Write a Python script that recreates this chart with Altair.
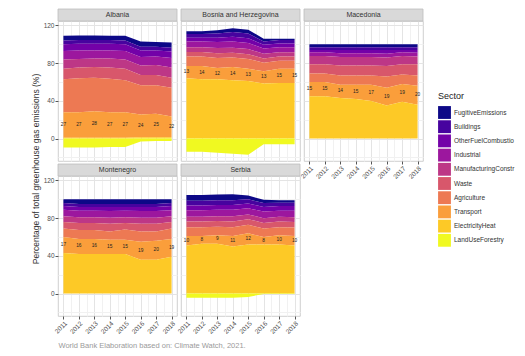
import altair as alt
import pandas as pd

years = [2011, 2012, 2013, 2014, 2015, 2016, 2017, 2018]
countries = ["Albania", "Bosnia and Herzegovina", "Macedonia", "Montenegro", "Serbia"]
sectors = ["FugitiveEmissions", "Buildings", "OtherFuelCombustion", "Industrial",
           "ManufacturingConstruction", "Waste", "Agriculture", "Transport",
           "ElectricityHeat", "LandUseForestry"]
sector_colors = ["#0D0887", "#47039F", "#7301A8", "#9C179E", "#BD3786",
                 "#D8576B", "#ED7953", "#FA9E3B", "#FDC926", "#F0F921"]
stack_rank = [9, 8, 7, 6, 5, 4, 3, 2, 1, 0]

# Albania
alb_fugitive = [5, 5, 5, 4.5, 5, 5.5, 5, 5.5]
alb_buildings = [4, 4, 4, 4, 4, 4, 4, 4]
alb_other = [7, 7, 7, 7, 7, 7, 6.5, 7]
alb_industrial = [9, 9, 8.5, 8.5, 9, 9, 9, 10]
alb_manufacturing = [10, 9, 9, 9.5, 10, 10, 10.5, 11]
alb_waste = [11, 11.5, 11.5, 12, 12, 11, 11, 10.5]
alb_agriculture = [35, 36, 35.5, 35.5, 34, 31, 30, 30.5]
alb_transport = [27, 27, 28, 27, 27, 24, 25, 22]
alb_electricity = [1, 1, 1, 1, 1, 1.5, 1.5, 1.5]
alb_landuse = [-9.5, -9.5, -9.5, -9, -9, -3, -2.5, -2.5]

# Bosnia and Herzegovina
bih_fugitive = [3, 3, 3.5, 4, 4, 3, 1.5, 1.5]
bih_buildings = [4, 4, 4.5, 5, 5, 3.5, 3.5, 3.5]
bih_other = [4, 4, 4.5, 5, 5, 4, 4, 4]
bih_industrial = [6, 6, 6.5, 6.5, 6.5, 5.5, 5.5, 5.5]
bih_manufacturing = [5, 5, 5.5, 5.5, 5.5, 5, 4.5, 4.5]
bih_waste = [5, 5, 5, 5, 5, 4.5, 4.5, 4.5]
bih_agriculture = [10, 10, 10.5, 10, 10.5, 9, 8.5, 8.5]
bih_transport = [13, 14, 12, 14, 13, 13, 15, 15]
bih_electricity = [64, 63, 63, 62, 61, 58.5, 59, 59]
bih_landuse = [-14, -14, -15, -16, -17, -6, -6, -6]

# Macedonia
mkd_fugitive = [3, 3, 3, 3, 3, 3, 3, 3]
mkd_buildings = [3, 3, 3, 3, 3, 3, 3, 3]
mkd_other = [2.5, 2.5, 3.5, 3.5, 3.5, 4, 2.5, 3]
mkd_industrial = [4, 4, 4, 4, 4, 4, 4, 4]
mkd_manufacturing = [8.5, 8.5, 9, 9, 9, 9, 8.5, 8]
mkd_waste = [10, 10, 10.5, 10.5, 10.5, 11, 11, 12]
mkd_agriculture = [9, 9, 10, 10, 10, 12, 10, 11]
mkd_transport = [15, 15, 14, 15, 17, 19, 19, 20]
mkd_electricity = [45, 45, 43, 42, 40, 35, 39, 36]
mkd_landuse = [0, 0, 0, 0, 0, 0, 0, 0]

# Montenegro
mne_fugitive = [4, 5, 5, 5, 5, 5, 5, 4]
mne_buildings = [3, 3, 3, 3, 3, 3, 3, 3]
mne_other = [4, 4, 4, 4.5, 4, 4.5, 4.5, 4.5]
mne_industrial = [7, 7, 7, 7, 7, 7, 7, 6.5]
mne_manufacturing = [6, 6, 6, 6.5, 6, 6.5, 6.5, 6]
mne_waste = [7, 7.5, 7.5, 8, 7, 8, 8, 7]
mne_agriculture = [9, 9.5, 9.5, 9, 11, 11, 10, 11]
mne_transport = [17, 16, 16, 15, 15, 19, 20, 19]
mne_electricity = [43, 42, 42, 42, 42, 36, 36, 39]
mne_landuse = [0, 0, 0, 0, 0, 0, 0, 0]

# Serbia
srb_fugitive = [6, 6, 6, 6.5, 4, 3.5, 2.5, 2.5]
srb_buildings = [5, 5, 5, 5, 4.5, 4, 3.5, 3.5]
srb_other = [5, 5, 5, 5, 5, 5, 5, 5]
srb_industrial = [7, 7, 7, 7, 6.5, 7, 6.5, 7]
srb_manufacturing = [5, 5, 5, 5.5, 5, 5, 5, 5]
srb_waste = [6, 6, 6, 6, 6, 6, 6, 6]
srb_agriculture = [9.5, 9.5, 9, 9.5, 9, 9, 8.5, 9]
srb_transport = [10, 8, 9, 11, 12, 8, 10, 10]
srb_electricity = [51, 53, 53, 50, 52, 52, 52, 51]
srb_landuse = [-4.5, -4.5, -4.5, -4.5, -3.5, -0.3, -0.3, -0.3]

country_series = {
    "Albania": [alb_fugitive, alb_buildings, alb_other, alb_industrial, alb_manufacturing,
                alb_waste, alb_agriculture, alb_transport, alb_electricity, alb_landuse],
    "Bosnia and Herzegovina": [bih_fugitive, bih_buildings, bih_other, bih_industrial, bih_manufacturing,
                               bih_waste, bih_agriculture, bih_transport, bih_electricity, bih_landuse],
    "Macedonia": [mkd_fugitive, mkd_buildings, mkd_other, mkd_industrial, mkd_manufacturing,
                  mkd_waste, mkd_agriculture, mkd_transport, mkd_electricity, mkd_landuse],
    "Montenegro": [mne_fugitive, mne_buildings, mne_other, mne_industrial, mne_manufacturing,
                   mne_waste, mne_agriculture, mne_transport, mne_electricity, mne_landuse],
    "Serbia": [srb_fugitive, srb_buildings, srb_other, srb_industrial, srb_manufacturing,
               srb_waste, srb_agriculture, srb_transport, srb_electricity, srb_landuse],
}

rows = []
label_rows = []
for c in countries:
    series = country_series[c]
    for s, vals, rank in zip(sectors, series, stack_rank):
        for yr, v in zip(years, vals):
            rows.append({"country": c, "sector": s, "rank": rank, "year": yr, "value": v})
    transport = series[7]
    elec = series[8]
    for yr, t, e in zip(years, transport, elec):
        label_rows.append({"country": c, "year": yr, "label_y": e + t / 2, "label": str(int(round(t)))})

df = pd.DataFrame(rows)
labels_df = pd.DataFrame(label_rows)

W, H = 119, 140
x_vals = [2011 + 0.5 * i for i in range(15)]
y_vals = [-20, 0, 20, 40, 60, 80, 100, 120]

minor_x = "datum.value % 1 != 0"
minor_y = "datum.value % 40 != 0"

legend = alt.Legend(
    title="Sector", orient="none", legendX=380, legendY=71,
    symbolType="square", symbolSize=165, symbolStrokeWidth=0, symbolOpacity=1,
    labelFontSize=6.5, titleFontSize=9, titleFontWeight="normal",
    rowPadding=1.2, labelOffset=3, labelColor="#333333", titleColor="#222222",
    titlePadding=5,
    labelExpr="datum.label == 'OtherFuelCombustion' ? 'OtherFuelCombustio' : "
              "(datum.label == 'ManufacturingConstruction' ? 'ManufacturingConstr' : datum.label)",
)


def make_x_axis(show, title=None):
    kw = dict(
        values=x_vals, labels=show, ticks=show, grid=True,
        labelExpr="datum.value % 1 == 0 ? format(datum.value, 'd') : ''",
        labelAngle=315, labelAlign="right", labelBaseline="top",
        labelFlush=False, labelOverlap=False, labelPadding=1,
        tickColor={"condition": {"test": minor_x, "value": "transparent"}, "value": "#555555"},
        gridColor={"condition": {"test": minor_x, "value": "#f1f1f1"}, "value": "#e4e4e4"},
        title=title,
    )
    if title:
        kw.update(titleAnchor="start", titleAlign="left", titleFontSize=7.5,
                  titleFontWeight="normal", titleColor="#9a9a9a", titlePadding=7)
    return alt.Axis(**kw)


def make_y_axis(show, title=None):
    kw = dict(
        values=y_vals, labels=show, ticks=show, grid=True,
        labelExpr="datum.value % 40 == 0 ? format(datum.value, 'd') : ''",
        labelOverlap=False, labelPadding=1,
        tickColor={"condition": {"test": minor_y, "value": "transparent"}, "value": "#555555"},
        gridColor={"condition": {"test": minor_y, "value": "#f1f1f1"}, "value": "#e4e4e4"},
        title=title,
    )
    if title:
        kw.update(titleX=-23, titleY=147.5, titleBaseline="middle", titleFontSize=8.5,
                  titleFontWeight="normal", titleColor="#333333")
    return alt.Axis(**kw)


x_scale = alt.Scale(domain=[2010.65, 2018.35], nice=False, zero=False)
y_scale = alt.Scale(domain=[-23.75, 124.75], nice=False, zero=False)


def panel(country, show_x, show_y, y_title=None, x_title=None):
    d = df[df["country"] == country]
    ld = labels_df[labels_df["country"] == country]
    xa = make_x_axis(show_x, x_title)
    ya = make_y_axis(show_y, y_title)
    strip_df = pd.DataFrame({"country": [country]})
    strip = alt.Chart(strip_df).mark_rect(fill="#d9d9d9", stroke="#bdbdbd", strokeWidth=0.8).encode(
        x=alt.value(0), x2=alt.value(W), y=alt.value(-12), y2=alt.value(0))
    strip_text = alt.Chart(strip_df).mark_text(fontSize=7, color="#333333", baseline="middle").encode(
        x=alt.value(W / 2), y=alt.value(-6), text="country:N")
    area = alt.Chart(d).mark_area(interpolate="linear", opacity=1).encode(
        x=alt.X("year:Q", scale=x_scale, axis=xa),
        y=alt.Y("value:Q", stack="zero", scale=y_scale, axis=ya),
        color=alt.Color("sector:N", scale=alt.Scale(domain=sectors, range=sector_colors), legend=legend),
        order=alt.Order("rank:Q", sort="ascending"),
    )
    text = alt.Chart(ld).mark_text(fontSize=4.8, color="#222222").encode(
        x=alt.X("year:Q", scale=x_scale, axis=xa),
        y=alt.Y("label_y:Q", scale=y_scale, axis=ya),
        text="label:N",
    )
    return alt.layer(strip, strip_text, area, text).properties(width=W, height=H)


p1 = panel("Albania", False, True, y_title="Percentage of total greenhouse gas emissions (%)")
p2 = panel("Bosnia and Herzegovina", False, False)
p3 = panel("Macedonia", True, False)
p4 = panel("Montenegro", True, True, x_title="World Bank Elaboration based on: Climate Watch, 2021.")
p5 = panel("Serbia", True, False)

chart = alt.concat(
    p1, p2, p3, p4, p5, columns=3, spacing={"row": 15, "column": 4}, bounds="flush"
).resolve_scale(color="shared").properties(
    padding={"left": 22, "top": 0, "right": 0, "bottom": 0}
).configure(font="Liberation Sans").configure_view(
    stroke="#c4c4c4", strokeWidth=0.8
).configure_axis(
    domain=False, labelColor="#4d4d4d", labelFontSize=6.5, tickSize=3
)

chart.save("out.html", embed_options={"renderer": "svg", "actions": False})
